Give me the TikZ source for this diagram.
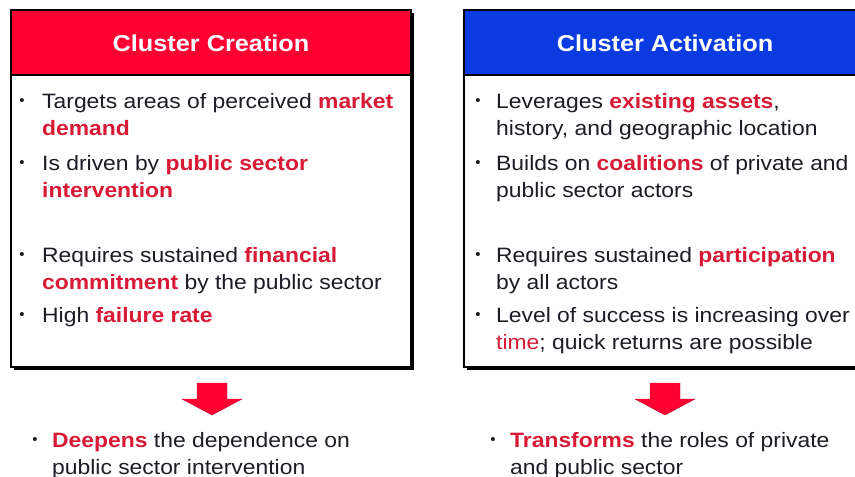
\documentclass[tikz,border=0pt]{standalone}
\usepackage{fontspec}
\setmainfont{Liberation Sans}
\newfontfamily\widesans[FakeStretch=1.1]{Liberation Sans}
\definecolor{hdred}{HTML}{FF0033}
\definecolor{hdblue}{HTML}{0A3BE0}
\definecolor{keyred}{HTML}{D81A36}
\definecolor{inktext}{HTML}{1C1C24}
\newcommand{\kw}[1]{\textbf{\color{keyred}#1}}
\newcommand{\twolines}[1]{\begin{tabular}[t]{@{}l@{}}#1\end{tabular}}
\tikzset{
  shadowbox/.style={fill=black},
  cardbox/.style={draw=black, line width=1.2pt, fill=white},
  titletext/.style={text=white, inner sep=0pt, font=\widesans\fontsize{23}{27}\selectfont\bfseries},
  itemtext/.style={anchor=base west, inner sep=0pt, text=inktext, font=\widesans\fontsize{20.8}{27}\selectfont},
  dot/.style={anchor=base, inner sep=0pt, text=inktext, font=\fontsize{15}{27}\selectfont},
  downarrow/.style={fill=hdred, draw=hdred!75!black, line width=0.4pt}
}

\begin{document}
\begin{tikzpicture}[x=1pt, y=-1pt]
  \useasboundingbox (0,0) rectangle (855,477);
  \clip (0,0) rectangle (855,477);

  % Left card
  \fill[shadowbox] (14,13) rectangle (414,370);
  \draw[cardbox] (11,10) rectangle (411,367);
  \fill[hdred] (11.6,10.6) rectangle (410.4,75);
  \draw[line width=1.2pt] (11,75) -- (411,75);
  \draw[line width=1.2pt] (11,10) rectangle (411,367);
  \node[titletext] (creTitle) at (211,43) {Cluster Creation};

  \node[dot] (creDotA) at (22,105) {\textbullet};
  \node[itemtext] (creItemA) at (42,108) {\twolines{Targets areas of perceived \kw{market}\\\kw{demand}}};
  \node[dot] (creDotB) at (22,167) {\textbullet};
  \node[itemtext] (creItemB) at (42,170) {\twolines{Is driven by \kw{public sector}\\\kw{intervention}}};
  \node[dot] (creDotC) at (22,259) {\textbullet};
  \node[itemtext] (creItemC) at (42,262) {\twolines{Requires sustained \kw{financial}\\\kw{commitment} by the public sector}};
  \node[dot] (creDotD) at (22,319) {\textbullet};
  \node[itemtext] (creItemD) at (42,322) {High \kw{failure rate}};

  % Right card
  \fill[shadowbox] (467,13) rectangle (872,370);
  \draw[cardbox] (464,10) rectangle (869,367);
  \fill[hdblue] (464.6,10.6) rectangle (868.4,75);
  \draw[line width=1.2pt] (464,75) -- (869,75);
  \draw[line width=1.2pt] (464,10) rectangle (869,367);
  \node[titletext] (actTitle) at (665,43) {Cluster Activation};

  \node[dot] (actDotA) at (478,105) {\textbullet};
  \node[itemtext] (actItemA) at (496,108) {\twolines{Leverages \kw{existing assets},\\history, and geographic location}};
  \node[dot] (actDotB) at (478,167) {\textbullet};
  \node[itemtext] (actItemB) at (496,170) {\twolines{Builds on \kw{coalitions} of private and\\public sector actors}};
  \node[dot] (actDotC) at (478,259) {\textbullet};
  \node[itemtext] (actItemC) at (496,262) {\twolines{Requires sustained \kw{participation}\\by all actors}};
  \node[dot] (actDotD) at (478,319) {\textbullet};
  \node[itemtext] (actItemD) at (496,322) {\twolines{Level of success is increasing over\\{\color{keyred}time}; quick returns are possible}};

  % Arrows
  \draw[downarrow] (197,383) -- (227,383) -- (227,399) -- (242,399) -- (212,415)
    -- (182,399) -- (197,399) -- cycle;
  \draw[downarrow] (650,383) -- (680,383) -- (680,399) -- (695,399) -- (665,415)
    -- (635,399) -- (650,399) -- cycle;

  % Outcomes
  \node[dot] (creDotOut) at (35,444) {\textbullet};
  \node[itemtext] (creOut) at (52,447) {\twolines{\kw{Deepens} the dependence on\\public sector intervention}};
  \node[dot] (actDotOut) at (493,444) {\textbullet};
  \node[itemtext] (actOut) at (510,447) {\twolines{\kw{Transforms} the roles of private\\and public sector}};
\end{tikzpicture}
\end{document}
